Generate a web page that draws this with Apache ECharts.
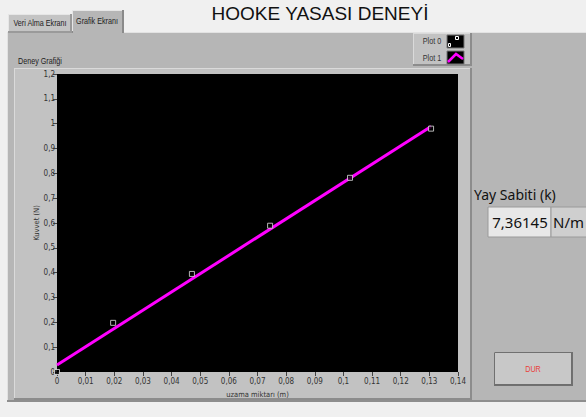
<!DOCTYPE html>
<html><head><meta charset="utf-8">
<script src="https://cdn.jsdelivr.net/npm/echarts@6/dist/echarts.min.js"></script>
<style>html,body{margin:0;padding:0;background:#f0f0f0;overflow:hidden}#c{width:586px;height:417px}</style>
</head><body><div id="c"></div>
<script>
// Plot 0: measured points (uzama miktarı m, Kuvvet N)
const uzama = [0, 0.0196, 0.0471, 0.0744, 0.1023, 0.1306];
const kuvvet = [0, 0.198, 0.395, 0.589, 0.782, 0.980];
// Plot 1: fitted line endpoints
const fitX = [0, 0.1306];
const fitY = [0.028, 0.989];
// axis ranges
const xRange = [0, 0.14, 0.01];
const yRange = [0, 1.2, 0.1];
const title = 'HOOKE YASASI DENEYİ';
const tabs = ['Veri Alma Ekranı', 'Grafik Ekranı'];
const legendNames = ['Plot 0', 'Plot 1'];
const kValue = '7,36145';

const COND = "'DejaVu Sans Condensed','Liberation Sans',sans-serif";
const SMALL = "9px 'Liberation Sans',Arial,sans-serif";
const fmt = v => String(Math.round(v * 100) / 100).replace('.', ',');

function bevel(x, y, w, h, fill, light, dark, z) {
  return [
    {type: 'rect', z: z, shape: {x, y, width: w, height: h}, style: {fill}},
    {type: 'rect', z: z, shape: {x, y, width: w, height: 1}, style: {fill: light}},
    {type: 'rect', z: z, shape: {x, y, width: 1, height: h}, style: {fill: light}},
    {type: 'rect', z: z, shape: {x: x + w - 2, y, width: 2, height: h}, style: {fill: dark}},
    {type: 'rect', z: z, shape: {x, y: y + h - 2, width: w, height: 2}, style: {fill: dark}}
  ];
}
function smallText(text, x, y, align, fill) {
  return {type: 'text', z: 5, x: x, y: y, scaleX: 0.8,
    style: {text, x: 0, y: 0, align, verticalAlign: 'middle', font: SMALL, fill}};
}

const g = [];
// tab panel
g.push({type: 'rect', z: -10, shape: {x: 7, y: 32, width: 579, height: 370}, style: {fill: '#b6b6b6'}});
g.push({type: 'rect', z: -10, shape: {x: 7, y: 32, width: 579, height: 1}, style: {fill: '#e2e2e2'}});
g.push({type: 'rect', z: -10, shape: {x: 7, y: 32, width: 1, height: 370}, style: {fill: '#e2e2e2'}});
g.push({type: 'rect', z: -10, shape: {x: 7, y: 400, width: 579, height: 2}, style: {fill: '#8e8e8e'}});
// tabs
g.push(...bevel(8, 14, 64, 19, '#c4c4c4', '#e6e6e6', '#9a9a9a', -9));
g.push(...bevel(72, 10, 52, 23, '#b6b6b6', '#e6e6e6', '#8a8a8a', -8));
g.push({type: 'rect', z: -8, shape: {x: 73, y: 31, width: 49, height: 3}, style: {fill: '#b6b6b6'}});
g.push(smallText(tabs[0], 40, 23, 'center', '#222'));
g.push(smallText(tabs[1], 97, 21, 'center', '#222'));
// title
g.push({type: 'text', z: 5, style: {text: title, x: 320, y: 13, align: 'center', verticalAlign: 'middle', font: "19px 'Liberation Sans',Arial,sans-serif", fill: '#111'}});
// graph frame
g.push(smallText('Deney Grafiği', 18, 61, 'left', '#222'));
g.push(...bevel(14, 68, 458, 332, '#c2c2c2', '#dadada', '#8c8c8c', -7));
// legend
g.push(...bevel(413, 33, 59, 33, '#c2c2c2', '#dadada', '#8c8c8c', -7));
g.push(smallText(legendNames[0], 432, 41, 'center', '#333'));
g.push(smallText(legendNames[1], 432, 58, 'center', '#333'));
g.push({type: 'rect', z: 5, shape: {x: 447, y: 35, width: 17, height: 13}, style: {fill: '#000', stroke: '#777', lineWidth: 1}});
g.push({type: 'rect', z: 6, shape: {x: 455.5, y: 36.5, width: 3, height: 3}, style: {fill: 'none', stroke: '#fff', lineWidth: 1}});
g.push({type: 'rect', z: 6, shape: {x: 448.5, y: 43.5, width: 2, height: 3}, style: {fill: 'none', stroke: '#fff', lineWidth: 1}});
g.push({type: 'rect', z: 5, shape: {x: 447, y: 51, width: 17, height: 13}, style: {fill: '#000', stroke: '#777', lineWidth: 1}});
g.push({type: 'polyline', z: 6, shape: {points: [[448, 62], [456, 54], [463, 59]]}, style: {fill: 'none', stroke: '#ff00ff', lineWidth: 2.5}});
// indicator
g.push({type: 'text', z: 5, style: {text: 'Yay Sabiti (k)', x: 474, y: 194, align: 'left', verticalAlign: 'middle', font: "14px 'Noto Sans',sans-serif", fill: '#111'}});
g.push({type: 'rect', z: 4, shape: {x: 488, y: 207, width: 63, height: 30}, style: {fill: '#e8e8e8', stroke: '#9a9a9a', lineWidth: 1}});
g.push({type: 'rect', z: 4, shape: {x: 551, y: 207, width: 40, height: 30}, style: {fill: '#cfcfcf', stroke: '#9a9a9a', lineWidth: 1}});
g.push({type: 'text', z: 5, style: {text: kValue, x: 520, y: 222, align: 'center', verticalAlign: 'middle', font: "15px 'Noto Sans',sans-serif", fill: '#111'}});
g.push({type: 'text', z: 5, style: {text: 'N/m', x: 553, y: 222, align: 'left', verticalAlign: 'middle', font: "15px 'Noto Sans',sans-serif", fill: '#111'}});
// button
g.push(...bevel(494, 352, 79, 34, '#c8c8c8', '#e8e8e8', '#6e6e6e', 4));
g.push({type: 'rect', z: 4, shape: {x: 494.5, y: 352.5, width: 78, height: 33}, style: {fill: 'none', stroke: '#707070', lineWidth: 1}});
g.push(smallText('DUR', 533, 369, 'center', '#e8413c'));

const chart = echarts.init(document.getElementById('c'), null, {renderer: 'svg'});
chart.setOption({
  backgroundColor: '#f0f0f0',
  animation: false,
  graphic: {elements: g},
  grid: {left: 57, top: 74, width: 401, height: 298, show: true, backgroundColor: '#000', borderWidth: 0, z: 3},
  xAxis: {
    type: 'value', min: xRange[0], max: xRange[1], interval: xRange[2],
    name: 'uzama miktarı (m)', nameLocation: 'middle', nameGap: 18, nameMoveOverlap: false,
    nameTextStyle: {fontFamily: COND, fontSize: 7.5, color: '#333'},
    axisLine: {show: false}, splitLine: {show: false},
    axisTick: {show: true, length: 4, lineStyle: {color: '#444'}},
    axisLabel: {formatter: fmt, fontFamily: COND, fontSize: 8, color: '#333', margin: 5}
  },
  yAxis: {
    type: 'value', min: yRange[0], max: yRange[1], interval: yRange[2],
    name: 'Kuvvet (N)', nameLocation: 'middle', nameGap: 17, nameMoveOverlap: false,
    nameTextStyle: {fontFamily: COND, fontSize: 7.5, color: '#333'},
    axisLine: {show: false}, splitLine: {show: false},
    axisTick: {show: true, length: 4, lineStyle: {color: '#444'}},
    axisLabel: {formatter: fmt, fontFamily: COND, fontSize: 8, color: '#333', margin: 2}
  },
  series: [
    {name: legendNames[1], type: 'line', data: fitX.map((x, i) => [x, fitY[i]]), showSymbol: false,
     lineStyle: {color: '#ff00ff', width: 3}, z: 3},
    {name: legendNames[0], type: 'scatter', data: uzama.map((x, i) => [x, kuvvet[i]]), symbol: 'rect', symbolSize: 5,
     itemStyle: {color: '#000', borderColor: '#e0e0e0', borderWidth: 1}, z: 4}
  ]
});
</script></body></html>
